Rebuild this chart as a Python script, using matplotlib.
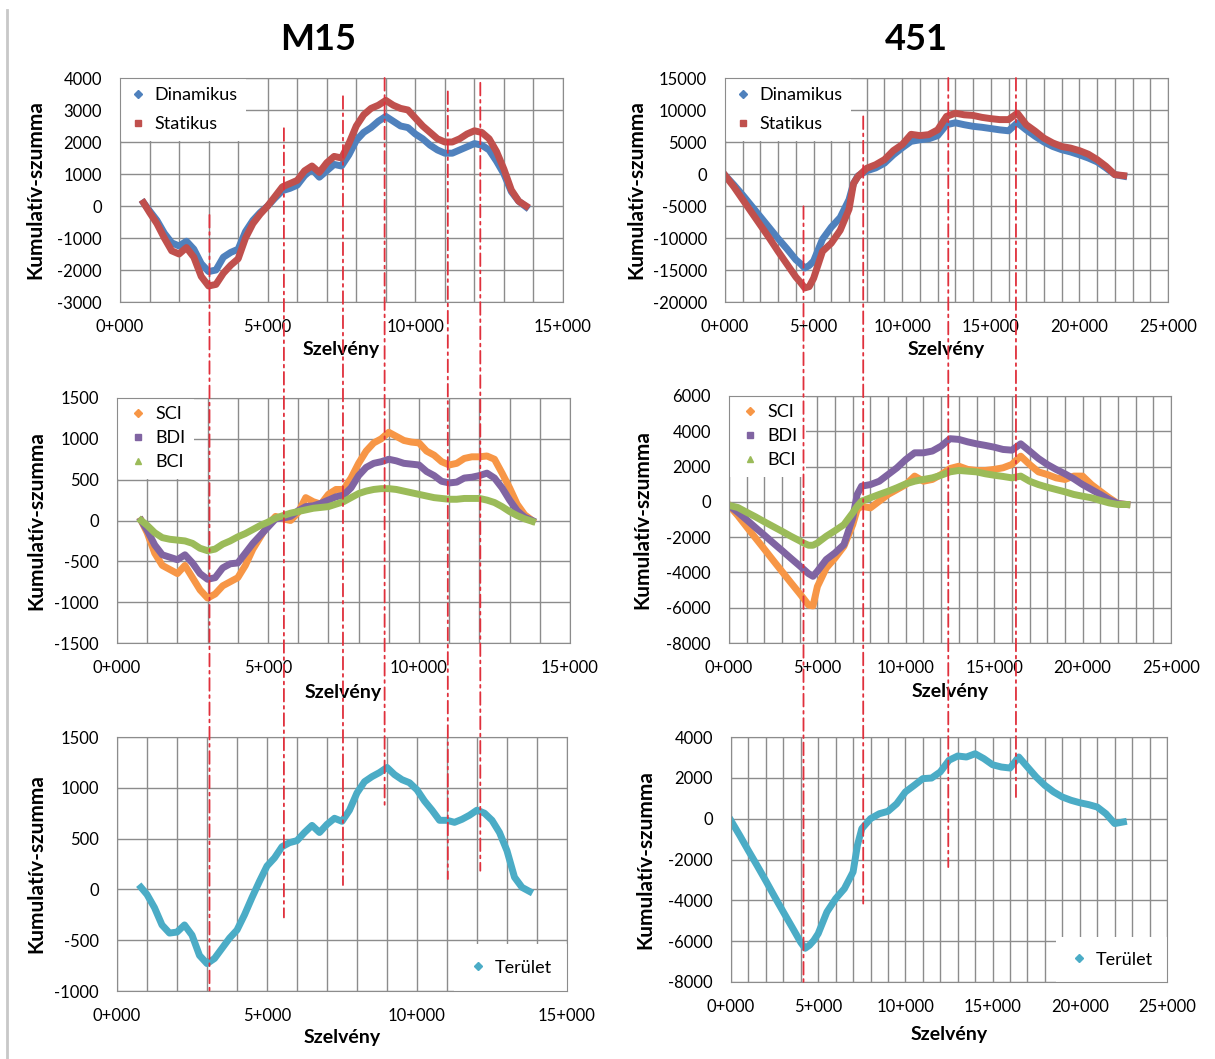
import matplotlib
matplotlib.use("Agg")
import matplotlib.pyplot as plt
from matplotlib.lines import Line2D
from matplotlib.patches import ConnectionPatch
from matplotlib.ticker import MultipleLocator, FuncFormatter
from matplotlib.transforms import blended_transform_factory

plt.rcParams['font.family'] = ['Lato', 'DejaVu Sans']

# --- M15 (bal oszlop) ---
x_m15 = [800, 1000, 1250, 1500, 1750, 2000, 2250, 2500, 2750, 3000,
         3250, 3500, 3750, 4000, 4250, 4500, 4750, 5000, 5250, 5500,
         5750, 6000, 6250, 6500, 6750, 7000, 7250, 7500, 7750, 8000,
         8250, 8500, 8750, 9000, 9250, 9500, 9750, 10000, 10250, 10500,
         10750, 11000, 11250, 11500, 11750, 12000, 12250, 12500, 12750, 13000,
         13250, 13500, 13750]

m15_dinamikus = [100, -150, -450, -850, -1150, -1250, -1100, -1350, -1800, -2050,
                 -2000, -1600, -1450, -1350, -800, -450, -200, 0, 250, 480,
                 550, 650, 950, 1150, 900, 1100, 1300, 1250, 1600, 2050,
                 2300, 2450, 2650, 2800, 2650, 2500, 2450, 2250, 2100, 1900,
                 1750, 1650, 1650, 1750, 1850, 1950, 1900, 1750, 1400, 1000,
                 450, 150, -30]
m15_statikus = [100, -200, -550, -1000, -1400, -1500, -1300, -1600, -2200, -2500,
                -2450, -2100, -1850, -1650, -1000, -550, -250, 0, 300, 600,
                700, 800, 1100, 1250, 1050, 1350, 1550, 1500, 1950, 2500,
                2850, 3050, 3150, 3300, 3150, 3050, 3000, 2750, 2500, 2300,
                2100, 2000, 2000, 2100, 2250, 2350, 2300, 2100, 1700, 1150,
                500, 150, 0]

m15_sci = [0, -150, -400, -550, -600, -650, -550, -700, -850, -950,
           -900, -800, -750, -700, -550, -350, -200, -50, 50, 20,
           0, 100, 280, 230, 200, 320, 380, 380, 520, 700,
           850, 950, 1000, 1080, 1030, 980, 960, 950, 850, 800,
           720, 680, 700, 760, 780, 780, 790, 750, 580, 400,
           200, 70, 0]
m15_bdi = [0, -120, -300, -420, -450, -480, -420, -520, -650, -720,
           -700, -580, -530, -520, -400, -280, -180, -80, 20, 30,
           50, 120, 170, 180, 210, 250, 290, 310, 400, 550,
           650, 700, 720, 750, 730, 700, 690, 680, 600, 550,
           480, 460, 470, 520, 530, 550, 580, 520, 400, 250,
           120, 40, 0]
m15_bci = [0, -60, -150, -210, -230, -240, -250, -280, -340, -370,
           -350, -290, -250, -200, -160, -110, -60, -20, 30, 60,
           90, 110, 130, 150, 160, 170, 200, 230, 280, 330,
           360, 380, 390, 390, 380, 360, 340, 320, 300, 280,
           270, 260, 260, 270, 270, 270, 250, 220, 170, 110,
           60, 20, -10]

m15_terulet = [20, -50, -180, -350, -430, -420, -350, -450, -650, -730,
               -680, -580, -480, -400, -250, -80, 80, 230, 310, 420,
               460, 480, 560, 630, 560, 640, 700, 670, 780, 950,
               1060, 1110, 1150, 1200, 1130, 1080, 1050, 980, 870, 780,
               680, 680, 660, 690, 730, 780, 750, 680, 560, 380,
               120, 20, -20]

# --- 451 (jobb oszlop) ---
x_451 = [0, 500, 1000, 1500, 2000, 2500, 3000, 3500, 4000, 4250, 4500, 4750,
         5000, 5500, 6000, 6500, 7000, 7250,
         7500, 8000, 8500, 9000, 9500, 10000, 10500, 11000, 11500, 12000,
         12500, 13000, 13500, 14000, 14500, 15000, 15500, 16000, 16500, 17000,
         17500, 18000, 18500, 19000, 19500, 20000, 20500, 21000, 21500, 22000,
         22500]

d451_dinamikus = [-200, -1700, -3300, -5000, -6700, -8400, -10100, -11700, -13400, -14000, -14700, -14300,
                  -13600, -10200, -8300, -6800, -4000, -1500,
                  -300, 500, 950, 1700, 3000, 4100, 5100, 5350, 5500, 6000,
                  7700, 8000, 7700, 7450, 7300, 7100, 6900, 6750, 8000, 6900,
                  5900, 5000, 4300, 3800, 3450, 3000, 2500, 1900, 950, -100,
                  -350]
d451_statikus = [-200, -2000, -4000, -6000, -8000, -10000, -12100, -14100, -16100, -16900, -17800, -17600,
                 -16300, -12100, -10800, -8800, -5500, -1500,
                 -400, 900, 1450, 2250, 3650, 4600, 6200, 6000, 6150, 6900,
                 9000, 9500, 9250, 9150, 8850, 8650, 8500, 8500, 9500, 7700,
                 6700, 5600, 4850, 4300, 4050, 3650, 3100, 2250, 1200, -100,
                 -250]

d451_sci = [-200, -780, -1420, -2050, -2680, -3320, -3950, -4580, -5200, -5520, -5850, -5900,
            -4800, -3750, -3180, -2520, -1290, -430,
            -250, -340, 40, 420, 700, 980, 1460, 1170, 1270, 1550,
            1890, 2020, 1840, 1780, 1780, 1840, 1930, 2120, 2590, 2120,
            1700, 1550, 1360, 1270, 1460, 1460, 980, 600, 230, -100,
            -150]
d451_bdi = [-200, -590, -1020, -1460, -1890, -2330, -2760, -3200, -3630, -3850, -4070, -4220,
            -3930, -3270, -2890, -2420, -900, 420,
            890, 980, 1170, 1550, 1930, 2400, 2780, 2780, 2880, 3160,
            3580, 3540, 3400, 3290, 3200, 3100, 2970, 2930, 3290, 2880,
            2460, 2120, 1840, 1590, 1310, 980, 700, 420, 130, -100,
            -150]
d451_bci = [-200, -320, -590, -850, -1130, -1400, -1670, -1950, -2210, -2350, -2460, -2460,
            -2330, -1950, -1630, -1290, -620, -250,
            40, 230, 420, 600, 800, 1020, 1170, 1270, 1360, 1510,
            1700, 1780, 1740, 1700, 1590, 1510, 1440, 1360, 1460, 1170,
            980, 830, 700, 570, 420, 320, 230, 80, -60, -150,
            -150]

d451_terulet = [-100, -820, -1570, -2300, -3050, -3820, -4570, -5310, -6060, -6350, -6200, -5960,
                -5630, -4570, -3920, -3430, -2610, -1300,
                -490, 0, 240, 360, 730, 1310, 1630, 1960, 1990, 2290,
                2860, 3070, 3020, 3180, 2940, 2640, 2530, 2480, 3020, 2530,
                2040, 1630, 1310, 1060, 900, 780, 690, 570, 240, -240,
                -160]

# szakaszhatarok (piros szaggatott vonalak): szelveny, felso/also vegpont
m15_breaks = [3030, 5550, 7550, 8960, 11100, 12200]
m15_break_top = [-280, 2430, 3430, 4000, 3580, 3850]
m15_break_bottom = [-1000, -276, 43, 793, 102, 184]
s451_breaks = [4430, 7800, 12600, 16420]
s451_break_top = [-5050, 9000, 15000, 15000]
s451_break_bottom = [-8000, -4160, -2370, 1060]

# Excel 2007 szinek
C_BLUE = '#4F81BD'
C_RED = '#C0504D'
C_ORANGE = '#F79646'
C_PURPLE = '#8064A2'
C_GREEN = '#9BBB59'
C_AQUA = '#4BACC6'
GRID = '#8c8c8c'
BREAK = '#e0303c'

W, H = 1215, 1059
fig = plt.figure(figsize=(W / 100, H / 100), dpi=100)


def add_panel(box, xmax, ylim, ystep, ylab_x, xlab_y):
    l, t, r, b = box
    ax = fig.add_axes([l / W, 1 - b / H, (r - l) / W, (b - t) / H])
    ax.set_xlim(0, xmax)
    ax.set_ylim(*ylim)
    ax.xaxis.set_major_locator(MultipleLocator(5000))
    ax.xaxis.set_minor_locator(MultipleLocator(1000))
    ax.yaxis.set_major_locator(MultipleLocator(ystep))
    ax.xaxis.set_major_formatter(FuncFormatter(lambda v, p: f"{int(round(v / 1000))}+000"))
    ax.yaxis.set_major_formatter(FuncFormatter(lambda v, p: f"{v:.0f}"))
    ax.grid(True, which='both', axis='x', color=GRID, lw=1)
    ax.grid(True, which='major', axis='y', color=GRID, lw=1)
    ax.set_axisbelow(True)
    ax.tick_params(which='both', length=0)
    ax.tick_params(axis='x', pad=12, labelsize=12)
    ax.tick_params(axis='y', pad=13, labelsize=12)
    for s in ax.spines.values():
        s.set_color(GRID)
        s.set_zorder(6)
    ax.set_xlabel('Szelvény', fontsize=14, fontweight='bold', va='center')
    ax.set_ylabel('Kumulatív-szumma', fontsize=15, fontweight='bold', va='center')
    ax.xaxis.set_label_coords(0.5, xlab_y)
    ax.yaxis.set_label_coords(ylab_x, 0.5)
    return ax


def add_legend(ax, items, loc, **kw):
    handles = [Line2D([], [], ls='none', marker=m, color=c, ms=ms, label=lab)
               for lab, c, m, ms in items]
    opts = dict(loc=loc, frameon=True, facecolor='white', edgecolor='none', framealpha=1,
                fancybox=False, borderaxespad=0, fontsize=13, handletextpad=0.4)
    opts.update(kw)
    ax.legend(handles=handles, **opts)


LW = 5.0

# === Felso sor: Dinamikus / Statikus ===
ax1 = add_panel((120, 78, 563, 302), 15000, (-3000, 4000), 1000, -0.19, -0.214)
ax1.plot(x_m15, m15_dinamikus, color=C_BLUE, lw=LW)
ax1.plot(x_m15, m15_statikus, color=C_RED, lw=LW)
add_legend(ax1, [('Dinamikus', C_BLUE, 'D', 4), ('Statikus', C_RED, 's', 4.5)], 'upper left',
           borderpad=0.5, labelspacing=0.72, handlelength=1.0)

ax2 = add_panel((725, 78, 1168, 302), 25000, (-20000, 15000), 5000, -0.199, -0.213)
ax2.plot(x_451, d451_dinamikus, color=C_BLUE, lw=LW)
ax2.plot(x_451, d451_statikus, color=C_RED, lw=LW)
add_legend(ax2, [('Dinamikus', C_BLUE, 'D', 4), ('Statikus', C_RED, 's', 4.5)], 'upper left',
           borderpad=0.5, labelspacing=0.72, handlelength=1.0)

# === Kozepso sor: SCI / BDI / BCI ===
ax3 = add_panel((117, 398, 570, 643), 15000, (-1500, 1500), 500, -0.179, -0.204)
ax3.plot(x_m15, m15_sci, color=C_ORANGE, lw=LW)
ax3.plot(x_m15, m15_bdi, color=C_PURPLE, lw=LW)
ax3.plot(x_m15, m15_bci, color=C_GREEN, lw=LW)
add_legend(ax3, [('SCI', C_ORANGE, 'D', 4), ('BDI', C_PURPLE, 's', 4.5), ('BCI', C_GREEN, '^', 5)],
           'upper left', borderpad=0.45, labelspacing=0.45, handlelength=1.4, handletextpad=0.3)

ax4 = add_panel((729, 396, 1171, 643), 25000, (-8000, 6000), 2000, -0.195, -0.198)
ax4.plot(x_451, d451_sci, color=C_ORANGE, lw=LW)
ax4.plot(x_451, d451_bdi, color=C_PURPLE, lw=LW)
ax4.plot(x_451, d451_bci, color=C_GREEN, lw=LW)
add_legend(ax4, [('SCI', C_ORANGE, 'D', 4), ('BDI', C_PURPLE, 's', 4.5), ('BCI', C_GREEN, '^', 5)],
           'upper left', borderpad=0.45, labelspacing=0.45, handlelength=1.4, handletextpad=0.3)

# === Also sor: Terulet ===
ax5 = add_panel((117, 737, 567, 991), 15000, (-1000, 1500), 500, -0.18, -0.185)
ax5.plot(x_m15, m15_terulet, color=C_AQUA, lw=LW)
add_legend(ax5, [('Terület', C_AQUA, 'D', 4)], 'lower right', borderpad=0.85, handlelength=1.0)

ax6 = add_panel((731, 737, 1167, 982), 25000, (-8000, 4000), 2000, -0.197, -0.215)
ax6.plot(x_451, d451_terulet, color=C_AQUA, lw=LW)
add_legend(ax6, [('Terület', C_AQUA, 'D', 4)], 'lower right', borderpad=0.8, handlelength=1.0)

# === Piros szakaszhatarok a panelokon keresztul ===
for top_ax, bot_ax, xs, tops, bots in [(ax1, ax5, m15_breaks, m15_break_top, m15_break_bottom),
                                       (ax2, ax6, s451_breaks, s451_break_top, s451_break_bottom)]:
    bot_tr = blended_transform_factory(top_ax.transData, bot_ax.transData)
    for xv, yt, yb in zip(xs, tops, bots):
        con = ConnectionPatch(xyA=(xv, yt), coordsA=top_ax.transData,
                              xyB=(xv, yb), coordsB=bot_tr,
                              color=BREAK, lw=1.3, linestyle=(0, (7, 2.5, 1.5, 2.5)))
        con.set_zorder(10)
        fig.add_artist(con)

# cimek es bal oldali keretvonal
fig.text(318 / W, 1 - 39 / H, 'M15', fontsize=26, fontweight='bold', ha='center', va='center')
fig.text(916 / W, 1 - 39 / H, '451', fontsize=26, fontweight='bold', ha='center', va='center')
fig.add_artist(Line2D([7 / W, 7 / W], [0, 1 - 10 / H], transform=fig.transFigure,
                      color='#c8c8c8', lw=2))

fig.savefig('out.png', dpi=100)
